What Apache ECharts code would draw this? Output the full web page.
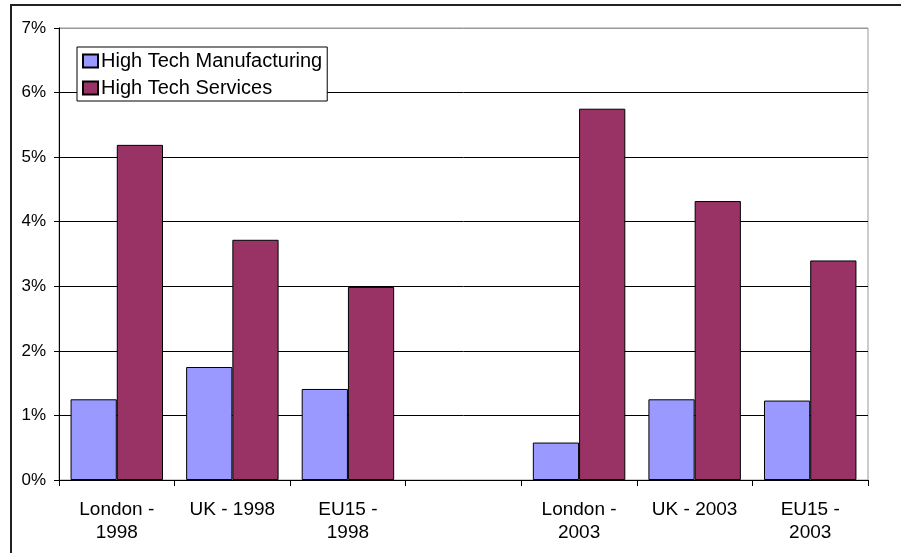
<!DOCTYPE html>
<html>
<head>
<meta charset="utf-8">
<script src="https://cdn.jsdelivr.net/npm/echarts@6/dist/echarts.min.js"></script>
<style>
  html, body { margin: 0; padding: 0; background: #fff; }
  #chart { width: 901px; height: 553px; }
</style>
</head>
<body>
<div id="chart"></div>
<script>
// Share of employment in high tech sectors, 1998 vs 2003
const categories = ['London -\n1998', 'UK - 1998', 'EU15 -\n1998', '', 'London -\n2003', 'UK - 2003', 'EU15 -\n2003'];
const manufacturing = [1.25, 1.75, 1.41, null, 0.58, 1.25, 1.23];
const services = [5.19, 3.72, 2.99, null, 5.75, 4.32, 3.40];
const seriesNames = ['High Tech Manufacturing', 'High Tech Services'];
const yTicks = [0, 1, 2, 3, 4, 5, 6, 7];

const FONT = 'Liberation Sans, Arial, sans-serif';
const chart = echarts.init(document.getElementById('chart'), null, { renderer: 'canvas' });

chart.setOption({
  animation: false,
  backgroundColor: '#fff',
  graphic: [{
    type: 'rect',
    shape: { x: 11, y: 5, width: 900, height: 560 },
    style: { fill: 'none', stroke: '#222', lineWidth: 2 },
    z: 0
  }],
  grid: {
    left: 59, right: 33, top: 28, bottom: 73,
    show: true, borderColor: '#999', borderWidth: 1, backgroundColor: 'transparent'
  },
  legend: {
    orient: 'vertical',
    left: 77, top: 47,
    padding: [4, 5, 3, 5],
    itemGap: 7,
    itemWidth: 15, itemHeight: 13,
    icon: 'rect',
    backgroundColor: '#fff',
    borderColor: '#000', borderWidth: 1,
    textStyle: { fontFamily: FONT, fontSize: 20, lineHeight: 20, color: '#000', padding: [0, 0, 0, -2] },
    data: seriesNames
  },
  xAxis: {
    type: 'category',
    data: categories,
    boundaryGap: true,
    axisLine: { lineStyle: { color: '#000', width: 1 } },
    axisTick: { show: true, length: 6, lineStyle: { color: '#000' } },
    axisLabel: {
      interval: 0, margin: 18, fontFamily: FONT, fontSize: 19,
      color: '#000', lineHeight: 23.5, align: 'center'
    },
    splitLine: { show: false }
  },
  yAxis: {
    type: 'value',
    min: yTicks[0], max: yTicks[yTicks.length - 1], interval: 1,
    axisLine: { show: true, lineStyle: { color: '#000', width: 1 } },
    axisTick: { show: true, length: 5, lineStyle: { color: '#000' } },
    axisLabel: { formatter: '{value}%', margin: 13, fontFamily: FONT, fontSize: 17, color: '#000' },
    splitLine: {
      show: true,
      lineStyle: { color: ['#000', '#000', '#000', '#000', '#000', '#000', '#000', '#999'], width: 1 }
    }
  },
  series: [
    {
      name: seriesNames[0], type: 'bar', data: manufacturing,
      barGap: '0%', barCategoryGap: '20%',
      itemStyle: { color: '#9999FF', borderColor: '#000', borderWidth: 1 }
    },
    {
      name: seriesNames[1], type: 'bar', data: services,
      barGap: '0%', barCategoryGap: '20%',
      itemStyle: { color: '#993366', borderColor: '#000', borderWidth: 1 }
    }
  ]
});
</script>
</body>
</html>
